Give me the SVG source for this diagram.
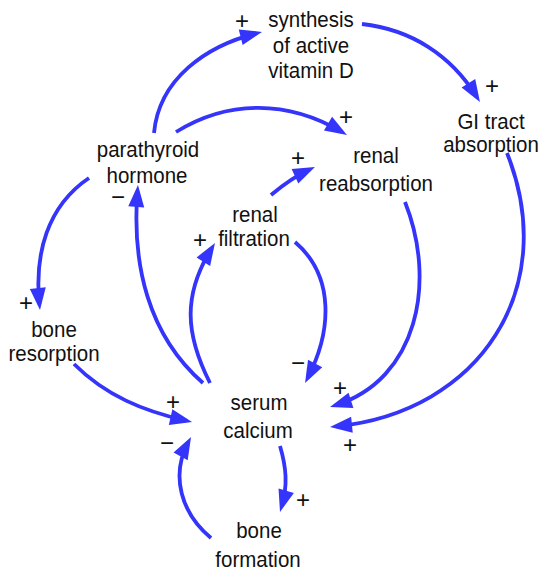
<svg xmlns="http://www.w3.org/2000/svg" width="550" height="578" viewBox="0 0 550 578">
<style>
.node text{font-family:"Liberation Sans",Arial,Helvetica,sans-serif;font-size:20.5px;fill:#111;text-anchor:middle}
.link{fill:none;stroke:#3434fa;stroke-width:3.8;marker-end:url(#ah)}
.sign{font-family:"Liberation Sans",Arial,Helvetica,sans-serif;font-size:24px;fill:#111;text-anchor:middle}
</style>
<defs>
<marker id="ah" markerUnits="userSpaceOnUse" markerWidth="22" markerHeight="16" refX="16" refY="8" orient="auto" overflow="visible">
<path d="M0,0 L22,8 L0,16 Z" fill="#3434fa"/>
</marker>
</defs>
<rect width="550" height="578" fill="#fff"/>
<g id="connectors">
<path class="link" d="M154,133 C159,79 206,46 256.2,33.4"/>
<path class="link" d="M362,24 C411,29.5 451,55 476.8,96.9"/>
<path class="link" d="M176,132 C228.5,99.3 288.5,100.3 341.8,131.9"/>
<path class="link" d="M271,195 C282.5,185.4 295.8,175.8 309.5,169.5"/>
<path class="link" d="M507,153 C560.7,287.9 480.3,411.9 336,426.4"/>
<path class="link" d="M405,202 C437,282.4 417.4,379.4 335.7,405.2"/>
<path class="link" d="M295,242 C335,276.2 331.7,331.4 307.8,377.7"/>
<path class="link" d="M203,383 C148,335 131.7,264 137.5,191"/>
<path class="link" d="M210,383 C185.2,334 182.6,294.9 211.8,248.1"/>
<path class="link" d="M89,178 C47,206.3 34.4,254.3 39.4,304"/>
<path class="link" d="M74,364 C105.7,395.7 143.5,411 186.2,420.7"/>
<path class="link" d="M211,538 C181.3,513.3 170.3,475.7 188.2,442.3"/>
<path class="link" d="M280,446 C286.3,467.5 287.9,485.1 281.7,506.2"/>
<g id="polarities">
<text class="sign" x="242" y="29">+</text>
<text class="sign" x="492" y="94">+</text>
<text class="sign" x="346" y="125">+</text>
<text class="sign" x="298" y="166">+</text>
<text class="sign" x="350" y="453">+</text>
<text class="sign" x="340" y="396">+</text>
<text class="sign" x="298" y="371">−</text>
<text class="sign" x="118" y="205">−</text>
<text class="sign" x="200" y="248">+</text>
<text class="sign" x="26" y="311">+</text>
<text class="sign" x="173" y="410">+</text>
<text class="sign" x="167" y="451">−</text>
<text class="sign" x="303" y="508">+</text>
</g>
</g>
<g id="synthesis" class="node">
<text transform="translate(311,27) scale(1,1.1)">synthesis</text>
<text transform="translate(311,53) scale(1,1.1)">of active</text>
<text transform="translate(311,77.5) scale(1,1.1)">vitamin D</text>
</g>
<g id="gi-tract" class="node">
<text transform="translate(491,129) scale(1,1.1)">GI tract</text>
<text transform="translate(491,152) scale(1,1.1)">absorption</text>
</g>
<g id="renal-reabsorption" class="node">
<text transform="translate(376,163) scale(1,1.1)">renal</text>
<text transform="translate(376,191) scale(1,1.1)">reabsorption</text>
</g>
<g id="parathyroid-hormone" class="node">
<text transform="translate(148,157) scale(1,1.1)">parathyroid</text>
<text transform="translate(147,183) scale(1,1.1)">hormone</text>
</g>
<g id="renal-filtration" class="node">
<text transform="translate(255,222) scale(1,1.1)">renal</text>
<text transform="translate(254,246) scale(1,1.1)">filtration</text>
</g>
<g id="bone-resorption" class="node">
<text transform="translate(54,337) scale(1,1.1)">bone</text>
<text transform="translate(54,361) scale(1,1.1)">resorption</text>
</g>
<g id="serum-calcium" class="node">
<text transform="translate(259,410) scale(1,1.1)">serum</text>
<text transform="translate(258,438) scale(1,1.1)">calcium</text>
</g>
<g id="bone-formation" class="node">
<text transform="translate(259,538) scale(1,1.1)">bone</text>
<text transform="translate(258,567) scale(1,1.1)">formation</text>
</g>
</svg>
